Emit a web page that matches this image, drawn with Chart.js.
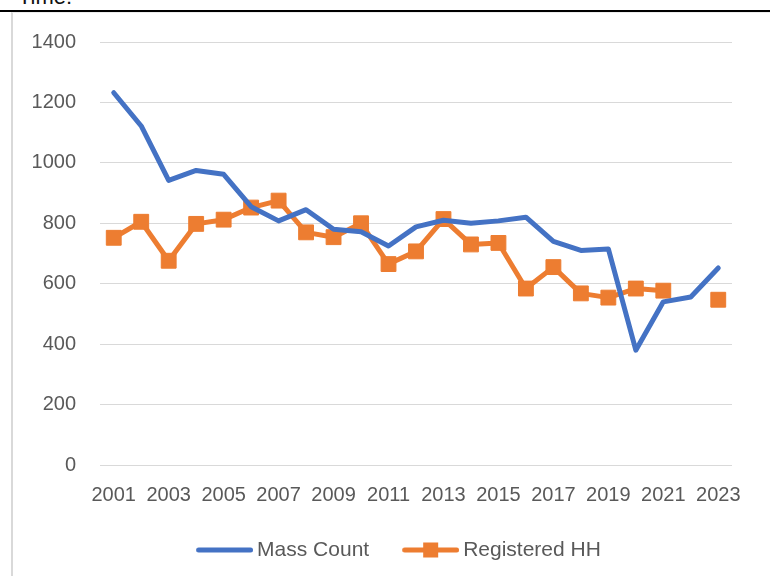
<!DOCTYPE html>
<html>
<head>
<meta charset="utf-8">
<script src="https://cdn.jsdelivr.net/npm/chart.js@4"></script>
<style>
  html, body { margin: 0; padding: 0; background: #fff; }
  body { width: 770px; height: 576px; position: relative; overflow: hidden; }
  .doc-text {
    position: absolute; left: 18px; top: -14px;
    font: 22px/22px "Liberation Sans", Arial, sans-serif; color: #111;
  }
  .doc-rule { position: absolute; left: 0; top: 10px; width: 770px; height: 2px; background: #000; }
  .frame {
    position: absolute; left: 11px; top: 12px; width: 759px; height: 564px;
    border-left: 2px solid #d9d9d9; border-top: 1px solid #ececec; box-sizing: border-box;
  }
  #chart { position: absolute; left: 13px; top: 12px; }
</style>
</head>
<body>
<div class="doc-text">Time:</div>
<div class="doc-rule"></div>
<div class="frame"></div>
<canvas id="chart" width="757" height="564"></canvas>

<script>
const years = ["2001", "2002", "2003", "2004", "2005", "2006", "2007", "2008", "2009", "2010", "2011", "2012",
  "2013", "2014", "2015", "2016", "2017", "2018", "2019", "2020", "2021", "2022", "2023"];
const massCount = [1232, 1122, 942, 975, 962, 855, 808, 845, 780, 772, 725, 788,
  810, 800, 808, 820, 740, 710, 715, 380, 540, 556, 652];
const registeredHH = [752, 805, 676, 798, 812, 852, 875, 770, 754, 800, 665, 707,
  814, 730, 735, 584, 655, 568, 554, 584, 577, null, 547];
const yTicks = [0, 200, 400, 600, 800, 1000, 1200, 1400];

const BLUE = "#4472C4";
const ORANGE = "#ED7D31";
const TEXT = "#595959";

// legend swatches: line (and square marker) drawn on a small canvas
function makeSwatch(color, withMarker) {
  const c = document.createElement("canvas");
  c.width = 75;
  c.height = 18;
  const g = c.getContext("2d");
  g.strokeStyle = color;
  g.lineWidth = 5;
  g.lineCap = "round";
  g.beginPath();
  g.moveTo(20.5, 9);
  g.lineTo(72.5, 9);
  g.stroke();
  if (withMarker) {
    g.fillStyle = color;
    g.fillRect(46.5 - 7.5, 9 - 7.5, 15, 15);
  }
  return c;
}

const blueSwatch = makeSwatch(BLUE, false);
const orangeSwatch = makeSwatch(ORANGE, true);

Chart.defaults.font.family = "'Liberation Sans', Arial, sans-serif";
Chart.defaults.color = TEXT;

new Chart(document.getElementById("chart"), {
  type: "line",
  data: {
    labels: years,
    datasets: [
      {
        label: "Mass Count",
        data: massCount,
        borderColor: BLUE,
        backgroundColor: BLUE,
        borderWidth: 5,
        borderCapStyle: "round",
        borderJoinStyle: "round",
        pointRadius: 0,
        pointHoverRadius: 0,
        tension: 0
      },
      {
        label: "Registered HH",
        data: registeredHH,
        borderColor: ORANGE,
        backgroundColor: ORANGE,
        borderWidth: 5,
        borderJoinStyle: "round",
        pointStyle: "rect",
        pointRadius: 10.5,
        pointBorderWidth: 1,
        pointBorderColor: ORANGE,
        pointBackgroundColor: ORANGE,
        spanGaps: false,
        tension: 0
      }
    ]
  },
  options: {
    responsive: false,
    animation: false,
    devicePixelRatio: 1,
    layout: {
      padding: { left: 17, right: 14.5, top: 30, bottom: 5.5 }
    },
    scales: {
      x: {
        offset: true,
        grid: { display: false },
        border: { display: false },
        ticks: {
          autoSkip: false,
          maxRotation: 0,
          minRotation: 0,
          padding: 10.5,
          font: { size: 20 },
          color: TEXT,
          callback: function (value, index) {
            return index % 2 === 0 ? years[index] : "";
          }
        }
      },
      y: {
        min: yTicks[0],
        max: yTicks[yTicks.length - 1],
        afterFit: function (scale) {
          scale.width = 70;
        },
        afterBuildTicks: function (scale) {
          scale.ticks = yTicks.map((v) => ({ value: v }));
        },
        grid: {
          color: "#d9d9d9",
          lineWidth: 1,
          drawTicks: true,
          tickLength: 6,
          tickColor: "rgba(0,0,0,0)"
        },
        border: { display: false },
        ticks: {
          padding: 18,
          font: { size: 20 },
          color: TEXT,
          callback: function (value) {
            return String(value);
          }
        }
      },
      // empty right-hand strip, keeps the legend centred like the original
      yRight: {
        position: "right",
        grid: { display: false },
        border: { display: false },
        ticks: { display: false },
        afterFit: function (scale) {
          scale.width = 23.5;
        }
      }
    },
    plugins: {
      tooltip: { enabled: false },
      legend: {
        position: "bottom",
        labels: {
          usePointStyle: true,
          pointStyleWidth: 62,
          padding: 21.5,
          color: TEXT,
          font: { size: 21 },
          generateLabels: function () {
            return [
              { text: "Mass Count", pointStyle: blueSwatch, datasetIndex: 0, fontColor: TEXT, hidden: false, lineWidth: 0 },
              { text: "Registered HH", pointStyle: orangeSwatch, datasetIndex: 1, fontColor: TEXT, hidden: false, lineWidth: 0 }
            ];
          }
        }
      }
    }
  }
});
</script>
</body>
</html>
